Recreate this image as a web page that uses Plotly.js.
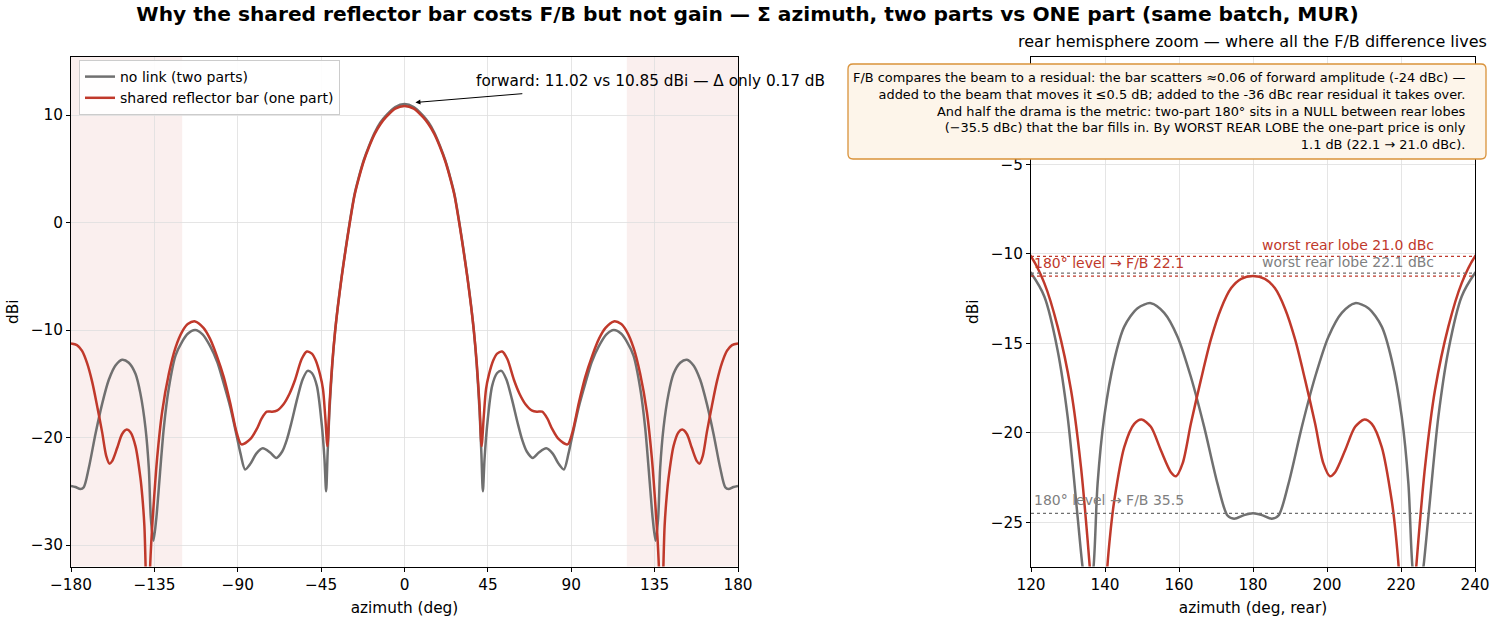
<!DOCTYPE html>
<html>
<head>
<meta charset="utf-8">
<script src="https://cdn.plot.ly/plotly-3.0.1.min.js"></script>
<style>
  html, body { margin: 0; padding: 0; background: #fff; }
  #chart { width: 1495px; height: 621px; }
</style>
</head>
<body>
<div id="chart"></div>
<script>
// ---- data (half pattern 0..180 deg, symmetric) ----
const GRAY_AZ = [0,5,10,13,16,19,22,25,27,29.5,32,34,36,37.5,39,40.5,41.5,42.3,43.2,44.6,47.3,50,52.3,55,58,61,63.5,66,69.2,72.5,76.5,80,83,86,88.5,90.5,94,97.7,101,104.9,109,113,117,120,123.6,127.2,129.9,132.6,134,135.5,136.9,138,139.8,142.5,145.2,148.8,152.4,156,159.6,163.2,166.8,170.4,173.1,174.9,177.6,180];
const GRAY_DBI = [11.02,10.75,9.95,9.3,8.4,7.2,5.8,4.0,2.6,0.1,-2.7,-5.1,-7.8,-10.2,-13.3,-17.5,-21.5,-25.0,-22.0,-18.9,-15.2,-14.0,-13.8,-14.6,-16.45,-18.6,-20.2,-21.3,-21.9,-21.4,-21.0,-21.5,-22.4,-22.97,-21.5,-19.9,-17.2,-14.9,-13.0,-11.5,-10.4,-10.0,-10.35,-11.08,-12.39,-15.4,-19.1,-24.7,-27.6,-29.6,-27.5,-22.84,-19.1,-15.94,-14.07,-13.04,-12.76,-13.3,-14.63,-16.87,-19.67,-22.84,-24.62,-24.8,-24.6,-24.5];

const RED_AZ = [0,5,10,13,16,19,22,25,27,29.5,32,34,36,37.5,39,40.5,41.6,42.8,44,45.5,48,50,52.7,55.5,59,62,65.3,68.9,71.5,74.3,77,79.7,83,88,90.5,94.1,97.5,101.3,105,108.5,113,117,120,123.6,127.2,130.8,133.5,135.3,136.6,137.5,138.5,139.6,140.4,141.5,142.5,145.2,147.9,149.9,152.4,155.1,157.8,159.2,161,163.2,165.9,168.6,171.4,174.1,176.8,180];
const RED_DBI = [10.85,10.6,9.8,9.15,8.27,7.1,5.7,3.9,2.5,0.0,-2.8,-5.2,-7.9,-10.2,-13.1,-17.0,-20.8,-18.0,-15.5,-14.2,-12.8,-12.2,-12.0,-12.7,-14.6,-15.9,-16.9,-17.5,-17.6,-17.6,-18.2,-19.2,-20.1,-20.64,-19.6,-16.76,-14.4,-12.4,-10.8,-9.8,-9.2,-9.45,-10.15,-11.64,-14.07,-17.6,-21.9,-26.0,-29.5,-33,-45,-33,-28.2,-25.5,-23.8,-20.8,-19.5,-19.26,-19.67,-20.98,-22.2,-22.43,-21.7,-19.5,-17.06,-14.8,-13.04,-11.92,-11.4,-11.25];

const SERIES_NAMES = ['no link (two parts)', 'shared reflector bar (one part)'];
const PEAK_GRAY = 11.02, PEAK_RED = 10.85;
const FB180_GRAY = 35.5, FB180_RED = 22.1;
const WORST_GRAY = 22.1, WORST_RED = 21.0;
const LEVEL180_GRAY = -24.5, LEVEL180_RED = -11.25;
const SHADE_FROM = 120; // rear hemisphere shading |az| >= 120
const X_TICKS_LEFT = [-180,-135,-90,-45,0,45,90,135,180];
const Y_TICKS_REAR = [-5,-10,-15,-20,-25];

// ---- build full / rear views from the symmetric half-pattern ----
function fullPattern(az, v) {
  const x = [], y = [];
  for (let i = az.length - 1; i >= 1; i--) { x.push(-az[i]); y.push(v[i]); }
  for (let i = 0; i < az.length; i++) { x.push(az[i]); y.push(v[i]); }
  return {x, y};
}
function rearPattern(az, v) {
  const x = [], y = [];
  for (let i = 0; i < az.length; i++) if (az[i] >= 113) { x.push(az[i]); y.push(v[i]); }
  for (let i = az.length - 2; i >= 0; i--) if (az[i] >= 113) { x.push(360 - az[i]); y.push(v[i]); }
  return {x, y};
}

const GRAY = '#707070', RED = '#c0392b', GRAYTXT = '#808080';
const FONT = 'DejaVu Sans, Verdana, sans-serif';

const gF = fullPattern(GRAY_AZ, GRAY_DBI), rF = fullPattern(RED_AZ, RED_DBI);
const gR = rearPattern(GRAY_AZ, GRAY_DBI), rR = rearPattern(RED_AZ, RED_DBI);

const lineStyle = c => ({color: c, width: 2.5, shape: 'spline', smoothing: 0.8});
const traces = [
  {x: gF.x, y: gF.y, name: SERIES_NAMES[0], mode: 'lines', line: lineStyle(GRAY), xaxis: 'x', yaxis: 'y'},
  {x: rF.x, y: rF.y, name: SERIES_NAMES[1], mode: 'lines', line: lineStyle(RED), xaxis: 'x', yaxis: 'y'},
  {x: gR.x, y: gR.y, name: SERIES_NAMES[0], mode: 'lines', line: lineStyle(GRAY), xaxis: 'x2', yaxis: 'y2', showlegend: false},
  {x: rR.x, y: rR.y, name: SERIES_NAMES[1], mode: 'lines', line: lineStyle(RED), xaxis: 'x2', yaxis: 'y2', showlegend: false}
];

const W = 1495, H = 621;
const px = v => v / W, py = v => 1 - v / H;

const TICK = 15.3;
const axisBase = {
  showline: true, mirror: true, linecolor: '#000', linewidth: 1,
  ticks: 'outside', ticklen: 4, tickcolor: '#000', tickwidth: 1,
  showgrid: true, gridcolor: '#dedede', gridwidth: 0.8, zeroline: false,
  tickfont: {family: FONT, size: TICK, color: '#000'}
};

const worstGrayLvl = PEAK_GRAY - WORST_GRAY;
const worstRedLvl = PEAK_RED - WORST_RED;

// rounded info box (paper coords)
const bx0 = px(848), bx1 = px(1486), byT = py(64), byB = py(159), rx = 5 / W, ry = 5 / H;
const boxPath = `M ${bx0+rx},${byT} L ${bx1-rx},${byT} Q ${bx1},${byT} ${bx1},${byT-ry} L ${bx1},${byB+ry} Q ${bx1},${byB} ${bx1-rx},${byB} L ${bx0+rx},${byB} Q ${bx0},${byB} ${bx0},${byB+ry} L ${bx0},${byT-ry} Q ${bx0},${byT} ${bx0+rx},${byT} Z`;

const shapes = [
  {type: 'rect', xref: 'x', yref: 'y domain', x0: -180, x1: -SHADE_FROM, y0: 0, y1: 1, fillcolor: 'rgba(192,57,43,0.08)', line: {width: 0}, layer: 'below'},
  {type: 'rect', xref: 'x', yref: 'y domain', x0: SHADE_FROM, x1: 180, y0: 0, y1: 1, fillcolor: 'rgba(192,57,43,0.08)', line: {width: 0}, layer: 'below'},
  {type: 'line', xref: 'x2', yref: 'y2', x0: 120, x1: 240, y0: worstRedLvl, y1: worstRedLvl, line: {color: RED, width: 1.3, dash: 'dot'}},
  {type: 'line', xref: 'x2', yref: 'y2', x0: 120, x1: 240, y0: worstGrayLvl, y1: worstGrayLvl, line: {color: GRAY, width: 1.3, dash: 'dot'}},
  {type: 'line', xref: 'x2', yref: 'y2', x0: 120, x1: 240, y0: LEVEL180_RED, y1: LEVEL180_RED, line: {color: RED, width: 1.3, dash: 'dot'}},
  {type: 'line', xref: 'x2', yref: 'y2', x0: 120, x1: 240, y0: LEVEL180_GRAY, y1: LEVEL180_GRAY, line: {color: GRAY, width: 1.3, dash: 'dot'}},
  {type: 'path', xref: 'paper', yref: 'paper', path: boxPath, fillcolor: '#fdf5ea', line: {color: '#d9923a', width: 1.3}, layer: 'above'}
];

const infoText = [
  'F/B compares the beam to a residual: the bar scatters ≈0.06 of forward amplitude (-24 dBc) —',
  'added to the beam that moves it ≤0.5 dB; added to the -36 dBc rear residual it takes over.',
  'And half the drama is the metric: two-part 180° sits in a NULL between rear lobes',
  '(−35.5 dBc) that the bar fills in. By WORST REAR LOBE the one-part price is only',
  '1.1 dB (22.1 → 21.0 dBc).'
].join('<br>');

const annotations = [
  {xref: 'paper', yref: 'paper', x: 0.8381, y: py(42), xanchor: 'center', yanchor: 'middle', showarrow: false,
   text: 'rear hemisphere zoom — where all the F/B difference lives', font: {family: FONT, size: 16, color: '#000'}},
  {xref: 'x', yref: 'y', x: 37.4, y: 13.15, xanchor: 'left', yanchor: 'middle', showarrow: false,
   text: `forward: ${PEAK_GRAY.toFixed(2)} vs ${PEAK_RED.toFixed(2)} dBi — Δ only ${(PEAK_GRAY-PEAK_RED).toFixed(2)} dB`,
   font: {family: FONT, size: 15.3, color: '#000'}},
  {xref: 'x', yref: 'y', x: 5.9, y: 11.17, axref: 'x', ayref: 'y', ax: 64.4, ay: 12.0, text: '', showarrow: true,
   arrowhead: 2, arrowsize: 1, arrowwidth: 1, arrowcolor: '#000'},
  {xref: 'x2', yref: 'y2', x: 182, y: worstRedLvl, xanchor: 'left', yanchor: 'bottom', yshift: 1, showarrow: false,
   text: `worst rear lobe ${WORST_RED.toFixed(1)} dBc`, font: {family: FONT, size: 14, color: RED}},
  {xref: 'x2', yref: 'y2', x: 182, y: worstGrayLvl, xanchor: 'left', yanchor: 'bottom', yshift: 1, showarrow: false,
   text: `worst rear lobe ${WORST_GRAY.toFixed(1)} dBc`, font: {family: FONT, size: 14, color: GRAYTXT}},
  {xref: 'x2', yref: 'y2', x: 120.3, y: LEVEL180_RED, xanchor: 'left', yanchor: 'bottom', yshift: 3, showarrow: false,
   text: `180° level → F/B ${FB180_RED.toFixed(1)}`, font: {family: FONT, size: 14, color: RED}},
  {xref: 'x2', yref: 'y2', x: 120.3, y: LEVEL180_GRAY, xanchor: 'left', yanchor: 'bottom', yshift: 3, showarrow: false,
   text: `180° level → F/B ${FB180_GRAY.toFixed(1)}`, font: {family: FONT, size: 14, color: GRAYTXT}},
  {xref: 'paper', yref: 'paper', x: px(1468), y: py(111), xanchor: 'right', yanchor: 'middle', align: 'right', showarrow: false,
   text: infoText, font: {family: FONT, size: 12.9, color: '#000'}}
];

const layout = {
  width: W, height: H,
  margin: {l: 0, r: 0, t: 0, b: 0},
  paper_bgcolor: '#fff', plot_bgcolor: '#fff',
  font: {family: FONT, size: 14, color: '#000'},
  title: {text: '<b>Why the shared reflector bar costs F/B but not gain — Σ azimuth, two parts vs ONE part (same batch, MUR)</b>',
          x: 0.5, xanchor: 'center', y: py(14), yanchor: 'middle', yref: 'container',
          font: {family: FONT, size: 20.2, color: '#000'}},
  showlegend: true,
  legend: {x: px(79), y: py(60), xanchor: 'left', yanchor: 'top', bgcolor: 'rgba(255,255,255,0.9)',
           bordercolor: '#cccccc', borderwidth: 1, font: {family: FONT, size: 14, color: '#000'}},
  xaxis: Object.assign({}, axisBase, {domain: [px(71), px(738)], anchor: 'y', range: [-180, 180],
           tickvals: X_TICKS_LEFT, title: {text: 'azimuth (deg)', font: {family: FONT, size: TICK}, standoff: 9}}),
  yaxis: Object.assign({}, axisBase, {domain: [py(566.5), py(57)], anchor: 'x', range: [-32, 15.4],
           dtick: 10, title: {text: 'dBi', font: {family: FONT, size: TICK}, standoff: 8}}),
  xaxis2: Object.assign({}, axisBase, {domain: [px(1031), px(1475)], anchor: 'y2', range: [120, 240],
           dtick: 20, title: {text: 'azimuth (deg, rear)', font: {family: FONT, size: TICK}, standoff: 9}}),
  yaxis2: Object.assign({}, axisBase, {domain: [py(566.5), py(57)], anchor: 'x2', range: [-27.47, 0.99],
           tickvals: Y_TICKS_REAR, title: {text: 'dBi', font: {family: FONT, size: TICK}, standoff: 8}}),
  shapes: shapes,
  annotations: annotations
};

Plotly.newPlot('chart', traces, layout, {displayModeBar: false, staticPlot: true});
</script>
</body>
</html>
